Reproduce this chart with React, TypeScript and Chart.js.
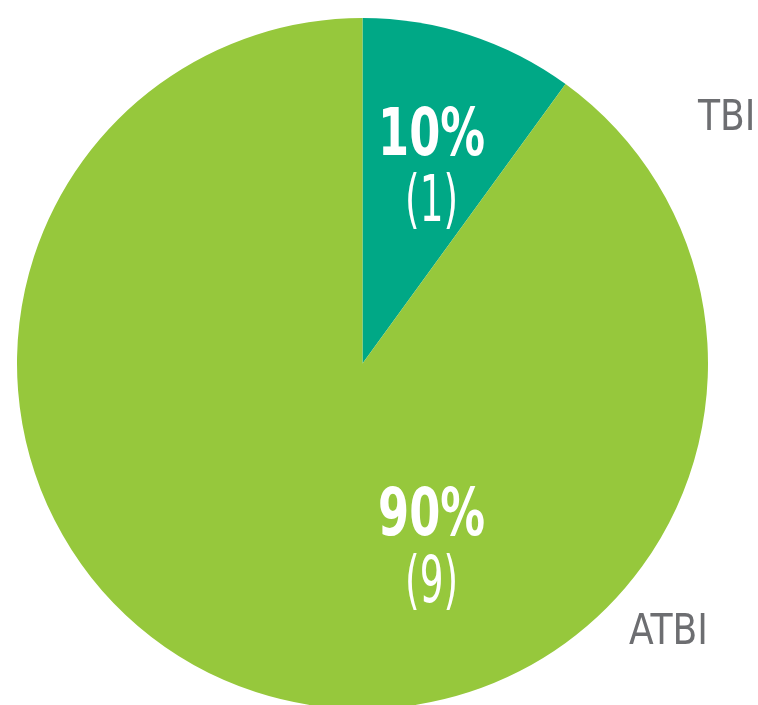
import React, { useEffect, useRef } from "react";
import { Chart, registerables } from "chart.js";

Chart.register(...registerables);

const categories = ["TBI", "ATBI"];
const counts = [1, 9];
const colors = ["#00A886", "#96C83C"];

const MAIN_FONT = 'bold 66px "DejaVu Sans Condensed", "DejaVu Sans", sans-serif';
const SUB_FONT = '200 64px "DejaVu Sans ExtraLight", "DejaVu Sans Condensed", sans-serif';
const CAT_FONT = 'normal 42px "DejaVu Sans Condensed", "DejaVu Sans", sans-serif';

// label placement (as fractions of the pie radius, relative to its centre)
const innerLabelPos = [
  { dx: 0.2, main: -0.603, sub: -0.412 },
  { dx: 0.2, main: 0.496, sub: 0.69 },
];
const outerLabelPos = [
  { dx: 0.971, dy: -0.676 },
  { dx: 0.771, dy: 0.812 },
];

// horizontal condensing so the installed fonts match the narrow face of the original
function condense(ctx: CanvasRenderingContext2D, font: string, sample: string, targetW: number) {
  ctx.font = font;
  const w = ctx.measureText(sample).width;
  return w > 0 ? Math.min(1, targetW / w) : 1;
}

function drawText(ctx: CanvasRenderingContext2D, text: string, x: number, y: number, sx: number) {
  ctx.save();
  ctx.translate(x, y);
  ctx.scale(sx, 1);
  ctx.fillText(text, 0, 0);
  ctx.restore();
}

const labelPlugin = {
  id: "pieLabels",
  afterDatasetsDraw(chart: any) {
    const meta = chart.getDatasetMeta(0);
    const arcs = meta.data;
    if (!arcs.length) return;
    const { x: cx, y: cy, outerRadius: r } = arcs[0].getProps(["x", "y", "outerRadius"], true);
    const total = counts.reduce((a, b) => a + b, 0);
    const ctx: CanvasRenderingContext2D = chart.ctx;
    ctx.save();
    const sxMain = condense(ctx, MAIN_FONT, "00%", 107);
    const sxSub = condense(ctx, SUB_FONT, "(0)", 53);
    const sxCat = condense(ctx, CAT_FONT, "ATBI", 79);
    ctx.textBaseline = "alphabetic";
    counts.forEach((v, i) => {
      const p = innerLabelPos[i];
      const pct = Math.round((v / total) * 100) + "%";
      ctx.fillStyle = "#ffffff";
      ctx.textAlign = "center";
      ctx.font = MAIN_FONT;
      drawText(ctx, pct, cx + p.dx * r, cy + p.main * r, sxMain);
      ctx.font = SUB_FONT;
      drawText(ctx, `(${v})`, cx + p.dx * r, cy + p.sub * r, sxSub);
      const o = outerLabelPos[i];
      ctx.fillStyle = "#6d6e71";
      ctx.textAlign = "left";
      ctx.font = CAT_FONT;
      drawText(ctx, categories[i], cx + o.dx * r, cy + o.dy * r, sxCat);
    });
    ctx.restore();
  },
};

export default function App() {
  const ref = useRef<HTMLCanvasElement>(null);
  useEffect(() => {
    document.body.style.margin = "0";
    const chart = new Chart(ref.current!, {
      type: "pie",
      data: {
        labels: categories,
        datasets: [
          {
            data: counts,
            backgroundColor: colors,
            borderWidth: 0,
            radius: 345.5,
            clip: false,
          } as any,
        ],
      },
      options: {
        responsive: false,
        animation: false,
        layout: { padding: { left: 0, right: 33, top: 22, bottom: 0 } },
        plugins: { legend: { display: false }, tooltip: { enabled: false } },
      },
      plugins: [labelPlugin],
    });
    return () => chart.destroy();
  }, []);
  return (
    <div style={{ width: 758, height: 705, background: "#ffffff" }}>
      <canvas ref={ref} width={758} height={705} style={{ display: "block" }} />
    </div>
  );
}
